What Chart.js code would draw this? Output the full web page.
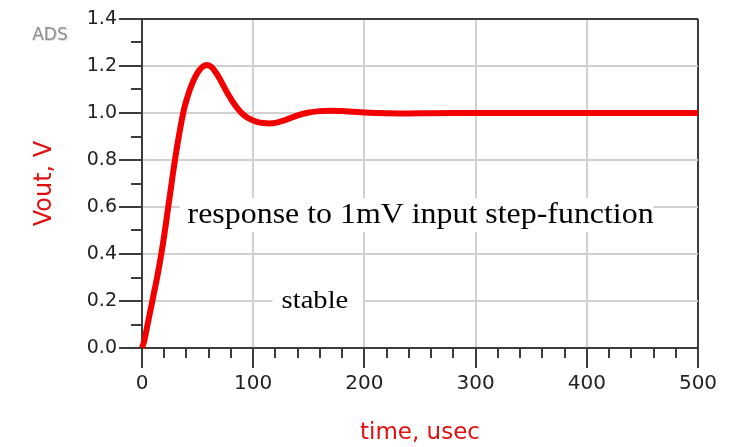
<!DOCTYPE html>
<html>
<head>
<meta charset="utf-8">
<script src="https://cdn.jsdelivr.net/npm/chart.js@4.4.1/dist/chart.umd.min.js"></script>
<style>
  html, body { margin: 0; padding: 0; background: #fff; }
  #wrap { width: 738px; height: 447px; }
</style>
</head>
<body>
<div id="wrap"><canvas id="step-chart"></canvas></div>
<script>
// step response of the loop, time in usec, output in volts
const timeUs = [0, 2, 5, 8, 11, 14, 17, 20, 23, 26, 29, 32, 35, 38, 42, 46, 50, 54, 58, 62,
  66, 70, 75, 80, 85, 90, 95, 100, 105, 112, 120, 130, 140, 150, 160, 170, 180, 190, 200,
  220, 240, 260, 300, 350, 400, 450, 500];
const vout = [0, 0.03, 0.1, 0.17, 0.24, 0.31, 0.39, 0.48, 0.58, 0.68, 0.78, 0.87, 0.95, 1.02,
  1.085, 1.135, 1.172, 1.195, 1.204, 1.197, 1.175, 1.145, 1.1, 1.06, 1.025, 0.998, 0.98, 0.968,
  0.96, 0.956, 0.958, 0.972, 0.99, 1.002, 1.008, 1.01, 1.008, 1.005, 1.002, 0.999, 0.998,
  0.999, 1.0, 1.0, 1.0, 1.0, 1.0];

const xMajor = [0, 100, 200, 300, 400, 500];
const yMajor = [0, 0.2, 0.4, 0.6, 0.8, 1.0, 1.2, 1.4];

const notes = [
  { text: 'response to 1mV input step-function', x: 41, y: 0.532, size: 29, box: [-8, 25, 474, 34] },
  { text: 'stable', x: 125.5, y: 0.17, size: 26, box: [-9, 20, 90, 28] },
];

const AXIS = '#3c3c3c';
const GRID = '#d0d0d0';

function isMajorX(v) { return xMajor.includes(Math.round(v)); }

// minor/major tick marks, gray ADS tag and the boxed notes
const decorPlugin = {
  id: 'decor',
  beforeDatasetsDraw(chart) {
    const ctx = chart.ctx;
    const xs = chart.scales.x;
    const ys = chart.scales.y;
    ctx.save();
    notes.forEach(n => {
      const px = xs.getPixelForValue(n.x);
      const py = ys.getPixelForValue(n.y);
      ctx.fillStyle = '#fff';
      ctx.fillRect(px + n.box[0], py - n.box[1], n.box[2], n.box[3]);
      ctx.save();
      ctx.translate(px, py);
      ctx.scale(1.1, 1);
      ctx.fillStyle = '#000';
      ctx.font = n.size + 'px "Liberation Serif", "Times New Roman", serif';
      ctx.textBaseline = 'alphabetic';
      ctx.textAlign = 'left';
      ctx.fillText(n.text, 0, 0);
      ctx.restore();
    });
    ctx.restore();
  },
  afterDraw(chart) {
    const ctx = chart.ctx;
    const xs = chart.scales.x;
    const ys = chart.scales.y;
    const area = chart.chartArea;
    ctx.save();
    ctx.strokeStyle = AXIS;
    ctx.lineWidth = 2;
    ctx.beginPath();
    for (let v = 0; v <= 500; v += 20) {
      const px = Math.round(xs.getPixelForValue(v));
      const len = isMajorX(v) ? 20 : 10;
      ctx.moveTo(px, area.bottom);
      ctx.lineTo(px, area.bottom + len);
    }
    for (let i = 0; i <= 14; i++) {
      const py = Math.round(ys.getPixelForValue(i / 10));
      const len = i % 2 === 0 ? 23 : 11;
      ctx.moveTo(area.left, py);
      ctx.lineTo(area.left - len, py);
    }
    ctx.stroke();

    ctx.font = '17px "DejaVu Sans", sans-serif';
    ctx.textAlign = 'center';
    ctx.textBaseline = 'middle';
    ctx.fillStyle = '#dcdcdc';
    ctx.fillText('ADS', 51, 37);
    ctx.fillStyle = '#8e8e8e';
    ctx.fillText('ADS', 50, 36);
    ctx.restore();
  }
};

const points = timeUs.map((t, i) => ({ x: t, y: vout[i] }));

new Chart(document.getElementById('step-chart'), {
  type: 'line',
  data: {
    datasets: [{
      data: points,
      borderColor: '#f20000',
      borderWidth: 6,
      pointRadius: 0,
      tension: 0.4,
      clip: false,
    }],
  },
  options: {
    responsive: true,
    maintainAspectRatio: false,
    animation: false,
    events: [],
    layout: { padding: { top: 19, right: 40, left: 0, bottom: 0 } },
    plugins: { legend: { display: false }, tooltip: { enabled: false } },
    scales: {
      x: {
        type: 'linear',
        min: 0,
        max: 500,
        afterFit: s => { s.height = 99; s.paddingLeft = 0; s.paddingRight = 0; },
        afterBuildTicks: s => { s.ticks = xMajor.map(v => ({ value: v })); },
        ticks: {
          padding: 24,
          color: '#222',
          font: { family: '"DejaVu Sans", sans-serif', size: 20 },
          maxRotation: 0,
          autoSkip: false,
        },
        grid: {
          drawTicks: false,
          lineWidth: 2,
          color: c => (c.tick && (c.tick.value === 500) ? AXIS : GRID),
        },
        border: { color: AXIS, width: 2 },
        title: {
          display: true,
          text: 'time, usec',
          color: '#e01010',
          font: { family: '"DejaVu Sans", sans-serif', size: 23 },
          padding: { top: 2, bottom: 0 },
        },
      },
      y: {
        min: 0,
        max: 1.4,
        afterFit: s => { s.width = 142; s.paddingTop = 0; s.paddingBottom = 0; },
        afterBuildTicks: s => { s.ticks = yMajor.map(v => ({ value: v })); },
        ticks: {
          padding: 25,
          color: '#222',
          font: { family: '"DejaVu Sans", sans-serif', size: 19 },
          callback: v => v.toFixed(1),
        },
        grid: {
          drawTicks: false,
          lineWidth: 2,
          color: c => (c.tick && c.tick.value > 1.39 ? AXIS : GRID),
        },
        border: { color: AXIS, width: 2 },
        title: {
          display: true,
          text: 'Vout, V',
          color: '#e01010',
          font: { family: '"DejaVu Sans", sans-serif', size: 24 },
          padding: { top: 30, bottom: 0 },
        },
      },
    },
  },
  plugins: [decorPlugin],
});
</script>
</body>
</html>
